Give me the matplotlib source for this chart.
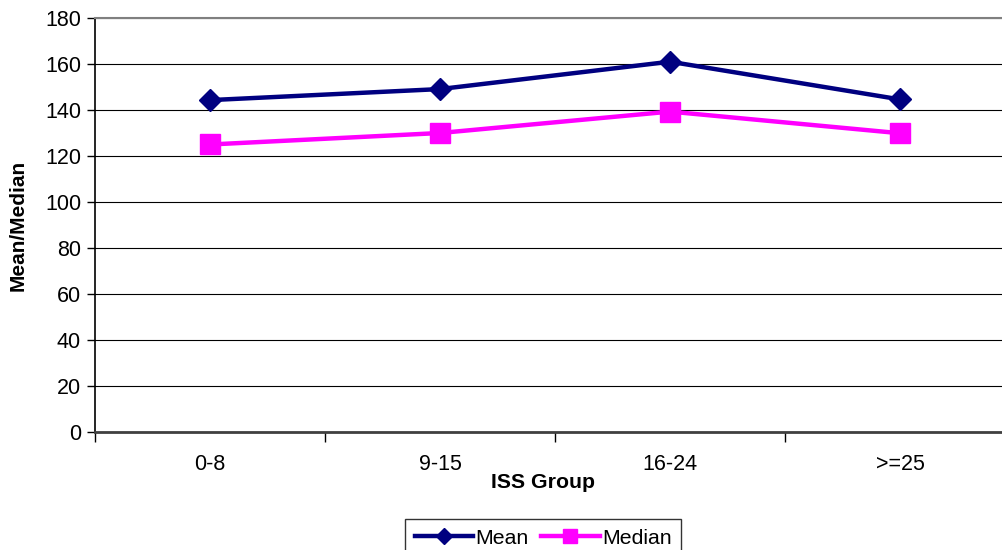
import matplotlib
matplotlib.use("Agg")
import matplotlib.pyplot as plt

plt.rcParams['font.family'] = ['Liberation Sans', 'DejaVu Sans']

# ISS groups and their mean / median values
groups = ['0-8', '9-15', '16-24', '>=25']
mean_vals = [144.3, 149.1, 161.0, 144.6]
median_vals = [125.0, 130.0, 139.3, 129.9]

fig = plt.figure(figsize=(10.03, 5.5), dpi=100)
# plot area runs past the right edge of the picture, as in the original
ax = fig.add_axes([95 / 1003, 1 - 432 / 550, 920 / 1003, 414 / 550])

x = range(len(groups))
ax.plot(x, mean_vals, color='#000080', lw=3.2, marker='D', ms=11.5,
        label='Mean', zorder=3)
ax.plot(x, median_vals, color='#FF00FF', lw=3.2, marker='s', ms=15,
        label='Median', zorder=3)

ax.set_xlim(-0.5, len(groups) - 0.5)
ax.set_ylim(0, 180)
ax.set_yticks(range(0, 181, 20))
ax.tick_params(axis='y', labelsize=15.5, length=6, width=1, direction='out', pad=4)

# category labels centred, tick marks on the boundaries
ax.set_xticks(list(x))
ax.set_xticklabels(groups)
ax.set_xticks([i + 0.5 for i in range(-1, len(groups))], minor=True)
ax.tick_params(axis='x', which='major', length=0, labelsize=15.5, pad=15.5)
ax.tick_params(axis='x', which='minor', length=7, width=1, direction='out')

ax.grid(axis='y', color='black', lw=0.8)
ax.set_axisbelow(True)
ax.spines['right'].set_visible(False)
ax.spines['top'].set_color('#808080')
ax.spines['top'].set_linewidth(1.5)
ax.spines['left'].set_linewidth(1.2)
ax.spines['bottom'].set_linewidth(2)
ax.spines['bottom'].set_color('#404040')

ax.set_xlabel('ISS Group', fontsize=15.3, fontweight='bold')
ax.set_ylabel('Mean/Median', fontsize=15, fontweight='bold')
ax.xaxis.set_label_coords((543 - 95) / 920, (432 - 483) / 414, transform=ax.transAxes)
ax.xaxis.label.set_va('center')
ax.yaxis.set_label_coords(-(95 - 18) / 920, 0.5)
ax.yaxis.label.set_va('center')

leg = fig.legend(loc='upper center', bbox_to_anchor=(543 / 1003, 1 - 519 / 550),
                 ncol=2, fontsize=15.3, frameon=True, fancybox=False,
                 edgecolor='black', handlelength=2.75, handletextpad=0.1,
                 columnspacing=0.6, borderpad=0.45, markerscale=0.7,
                 borderaxespad=0)
leg.get_frame().set_linewidth(1)

fig.savefig('out.png', dpi=100)
